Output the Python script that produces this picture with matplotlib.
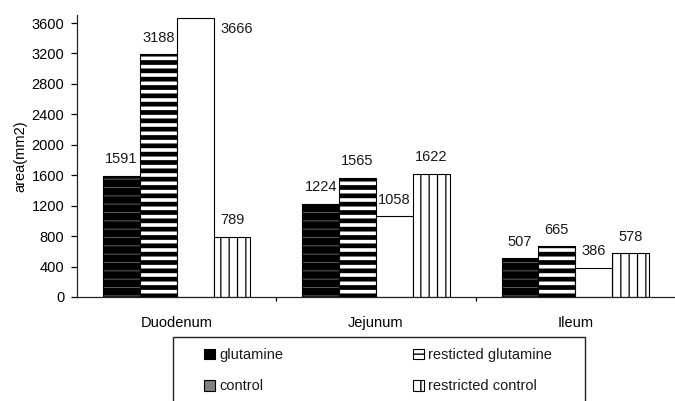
import matplotlib
matplotlib.use("Agg")
import matplotlib.pyplot as plt
import matplotlib.patches as mpatches
import numpy as np

plt.rcParams["font.family"] = ["Liberation Sans", "DejaVu Sans"]
plt.rcParams["text.color"] = "#1a1a1a"

categories = ["Duodenum", "Jejunum", "Ileum"]
series_names = ["glutamine", "resticted glutamine", "control", "restricted control"]
glutamine = [1591, 1224, 507]
restricted_glutamine = [3188, 1565, 665]
control = [3666, 1058, 386]
restricted_control = [789, 1622, 578]
y_ticks = [0, 400, 800, 1200, 1600, 2000, 2400, 2800, 3200, 3600]

series = [glutamine, restricted_glutamine, control, restricted_control]
# face, hatch, hatch colour, hatch linewidth
styles = [
    ("black", "--", "#555555", 0.8),
    ("white", "--", "black", 3.4),
    ("white", "", "black", 1.0),
    ("white", "||", "black", 0.9),
]
legend_faces = ["black", "white", "#808080", "white"]

fig = plt.figure(figsize=(6.75, 4.01), dpi=100)
ax = fig.add_axes([77 / 675, 1 - 297 / 401, 598 / 675, (297 - 15.4) / 401])

x = np.arange(len(categories))
width = 0.185
offsets = (np.arange(4) - 1.5) * width

for vals, off, (face, hatch, hcol, hlw) in zip(series, offsets, styles):
    with plt.rc_context({"hatch.linewidth": hlw, "hatch.color": hcol}):
        b = ax.bar(x + off, vals, width, facecolor=face, edgecolor=hcol,
                   hatch=hatch, linewidth=0)
    for p in b:
        if hasattr(p, "set_hatch_linewidth"):
            p.set_hatch_linewidth(hlw)
    # black outline on top of the hatch
    ax.bar(x + off, vals, width, facecolor="none", edgecolor="black", linewidth=0.8)

ax.set_ylim(0, 3700)
ax.set_xlim(-0.5, 2.5)
ax.set_yticks(y_ticks)

for vals, off in zip(series, offsets):
    for xi, v in zip(x, vals):
        if v > y_ticks[-1]:
            # no room above the axis: put the label beside the bar
            ax.annotate(str(v), (xi + off + width / 2, v), xytext=(5, -8),
                        textcoords="offset points", ha="left", va="center", fontsize=10.5)
        else:
            ax.annotate(str(v), (xi + off, v), xytext=(0, 9),
                        textcoords="offset points", ha="center", va="baseline", fontsize=10.5)

ax.set_xticks(x)
ax.set_xticklabels(categories, fontsize=10.5)
ax.set_xticks([0.5, 1.5], minor=True)
ax.tick_params(axis="x", which="major", length=0, pad=14)
ax.tick_params(axis="x", which="minor", length=3, width=0.9, direction="out")
ax.tick_params(axis="y", length=4, width=0.9, pad=5, labelsize=10.5)

ax.spines["top"].set_visible(False)
ax.spines["right"].set_visible(False)
for s in ("left", "bottom"):
    ax.spines[s].set_linewidth(0.9)
    ax.spines[s].set_color("#222222")

ax.set_ylabel("area(mm2)", fontsize=10.5)
ax.yaxis.set_label_coords(-(77 - 27) / 598, 0.5)

# legend box (bottom edge lies outside the figure)
box = mpatches.Rectangle((173 / 675, -0.05), (585 - 173) / 675, 0.05 + 1 - 337 / 401,
                         transform=fig.transFigure, facecolor="none", edgecolor="#222222",
                         linewidth=1.0, clip_on=False)
fig.patches.append(box)

handles = []
for face, (f0, hatch, hcol, hlw) in zip(legend_faces, styles):
    with plt.rc_context({"hatch.linewidth": hlw}):
        h = mpatches.Patch(facecolor=face, edgecolor="black", hatch=hatch, linewidth=0.8)
    if hasattr(h, "set_hatch_linewidth"):
        h.set_hatch_linewidth(hlw)
    handles.append(h)

# legend fills column-wise; reorder so rows read across
order = [0, 2, 1, 3]
fig.legend([handles[i] for i in order], [series_names[i] for i in order],
           loc="upper left", ncol=2,
           bbox_to_anchor=(204 / 675, 1 - 348 / 401), frameon=False,
           borderpad=0, borderaxespad=0, handlelength=0.75, handleheight=0.75,
           handletextpad=0.3, labelspacing=1.2, columnspacing=8.9, fontsize=10.5)

fig.savefig("out.png", dpi=100)
